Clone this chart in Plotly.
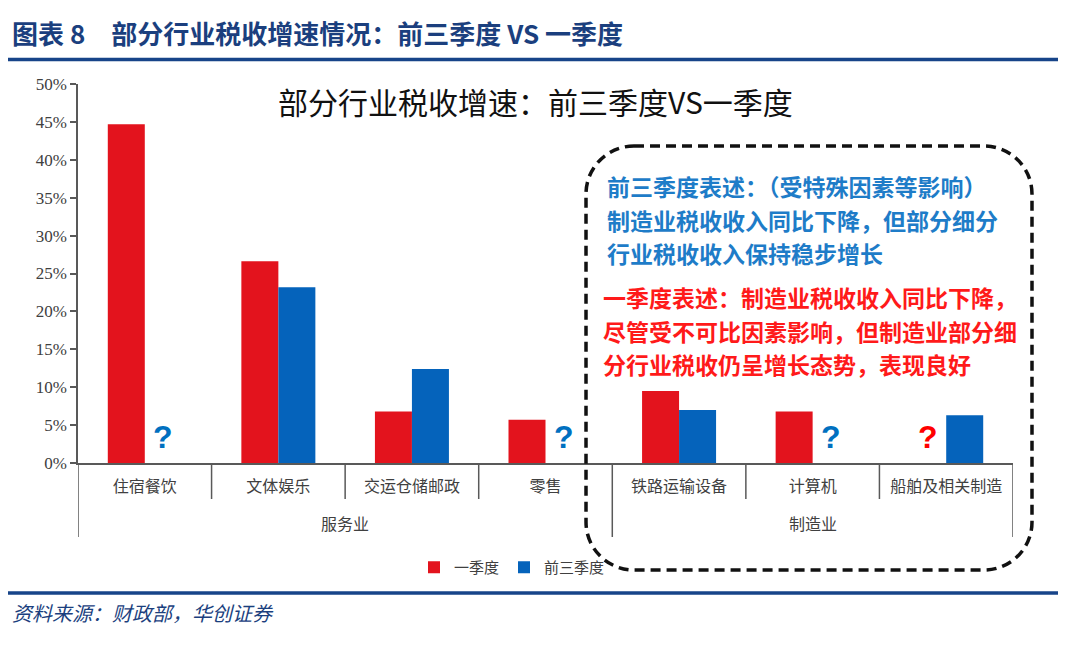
import plotly.graph_objects as go

# ---------------- data ----------------
groups = ["服务业", "服务业", "服务业", "服务业", "制造业", "制造业", "制造业"]
categories = ["住宿餐饮", "文体娱乐", "交运仓储邮政", "零售", "铁路运输设备", "计算机", "船舶及相关制造"]
q1_values = [0.447, 0.266, 0.068, 0.057, 0.095, 0.068, None]        # 一季度
q1to3_values = [None, 0.232, 0.124, None, 0.070, None, 0.063]      # 前三季度
y_ticks = [0, 0.05, 0.10, 0.15, 0.20, 0.25, 0.30, 0.35, 0.40, 0.45, 0.50]
series_names = ["一季度", "前三季度"]

chart_title = "部分行业税收增速：前三季度VS一季度"
header_title = "图表 8　部分行业税收增速情况：前三季度 VS 一季度"
source_text = "资料来源：财政部，华创证券"
blue_note = ["前三季度表述：（受特殊因素等影响）",
             "制造业税收收入同比下降，但部分细分",
             "行业税收收入保持稳步增长"]
red_note = ["一季度表述：制造业税收收入同比下降，",
            "尽管受不可比因素影响，但制造业部分细",
            "分行业税收仍呈增长态势，表现良好"]

# ---------------- layout helpers ----------------
W, H = 1080, 649
L, R, T, B = 78, 1013, 84, 463


def px(x):
    return (x - L) / (R - L)


def py(y):
    return (B - y) / (B - T)


RED = "#E3131D"
BLUE = "#0563BB"
NAVY = "#1B3F7E"
GREY = "#595959"
CJK = "Noto Sans CJK SC"

fig = go.Figure()
fig.add_trace(go.Bar(x=categories, y=q1_values, name=series_names[0],
                     marker=dict(color=RED, line=dict(width=0))))
fig.add_trace(go.Bar(x=categories, y=q1to3_values, name=series_names[1],
                     marker=dict(color=BLUE, line=dict(width=0))))

annotations = []
shapes = []

# question marks for missing values
bar_px = (R - L) / len(categories) * (1 - 0.446) / 2
for i, cat in enumerate(categories):
    if q1_values[i] is None:
        annotations.append(dict(x=cat, y=0, xref="x", yref="y", text="<b>?</b>", showarrow=False,
                                xshift=-bar_px / 2, yshift=6, yanchor="bottom",
                                font=dict(family="Liberation Sans", size=32, color="#FF0000")))
    if q1to3_values[i] is None:
        annotations.append(dict(x=cat, y=0, xref="x", yref="y", text="<b>?</b>", showarrow=False,
                                xshift=bar_px / 2, yshift=6, yanchor="bottom",
                                font=dict(family="Liberation Sans", size=32, color="#0070C0")))

# category dividers
n = len(categories)
for i in range(n + 1):
    b = i - 0.5
    is_group_edge = (i == 0) or (i == n) or (groups[i] != groups[i - 1])
    y1 = -(537 - B) / (B - T) if is_group_edge else -(499 - B) / (B - T)
    shapes.append(dict(type="line", xref="x", yref="paper", x0=b, x1=b, y0=0, y1=y1,
                       line=dict(color=GREY, width=1.5)))

# group labels
seen = []
for g in groups:
    if g not in seen:
        seen.append(g)
for g in seen:
    idx = [i for i, gg in enumerate(groups) if gg == g]
    annotations.append(dict(x=sum(idx) / len(idx), y=-(523 - B) / (B - T), xref="x", yref="paper",
                            text=g, showarrow=False, yanchor="middle",
                            font=dict(family=CJK, size=16, color="#404040")))

# chart title
annotations.append(dict(x=px(535), y=py(101), xref="paper", yref="paper", text=chart_title,
                        showarrow=False, xanchor="center", yanchor="middle",
                        font=dict(family=CJK, size=30, color="#111111")))

# notes
for k, line in enumerate(blue_note):
    annotations.append(dict(x=px(605), y=py(186 + 33.5 * k), xref="paper", yref="paper", text=line,
                            showarrow=False, xanchor="left", yanchor="middle",
                            font=dict(family=CJK, size=23, color="#1E7CC8", weight="bold")))
for k, line in enumerate(red_note):
    annotations.append(dict(x=px(601), y=py(297 + 33.5 * k), xref="paper", yref="paper", text=line,
                            showarrow=False, xanchor="left", yanchor="middle",
                            font=dict(family=CJK, size=23, color="#FF1A1A", weight="bold")))

# header and footer
annotations.append(dict(x=px(10), y=py(32), xref="paper", yref="paper", text="<b>" + header_title + "</b>",
                        showarrow=False, xanchor="left", yanchor="middle",
                        font=dict(family=CJK, size=26, color=NAVY)))
annotations.append(dict(x=px(10), y=py(612), xref="paper", yref="paper", text="<i>" + source_text + "</i>",
                        showarrow=False, xanchor="left", yanchor="middle",
                        font=dict(family=CJK, size=20, color=NAVY)))
for yy in (59.5, 593):
    shapes.append(dict(type="line", xref="paper", yref="paper", x0=px(8), x1=px(1058),
                       y0=py(yy), y1=py(yy), line=dict(color="#174489", width=3.5)))

# dashed rounded rectangle
x0, x1, y0, y1, r = 586, 1032, 146, 570, 48
k = 0.5523 * r


def P(x, y):
    return f"{px(x):.5f},{py(y):.5f}"


path = (f"M {P(x0 + r, y0)} L {P(x1 - r, y0)} "
        f"C {P(x1 - r + k, y0)} {P(x1, y0 + r - k)} {P(x1, y0 + r)} "
        f"L {P(x1, y1 - r)} "
        f"C {P(x1, y1 - r + k)} {P(x1 - r + k, y1)} {P(x1 - r, y1)} "
        f"L {P(x0 + r, y1)} "
        f"C {P(x0 + r - k, y1)} {P(x0, y1 - r + k)} {P(x0, y1 - r)} "
        f"L {P(x0, y0 + r)} "
        f"C {P(x0, y0 + r - k)} {P(x0 + r - k, y0)} {P(x0 + r, y0)} Z")
shapes.append(dict(type="path", xref="paper", yref="paper", path=path,
                   line=dict(color="#111111", width=3.5, dash="10px,6px")))

fig.update_layout(
    width=W, height=H,
    margin=dict(l=L, r=W - R, t=T, b=H - B, pad=0),
    paper_bgcolor="white", plot_bgcolor="white",
    barmode="group", bargap=0.446, bargroupgap=0,
    showlegend=True,
    legend=dict(orientation="h", x=px(414), y=py(551), xanchor="left", yanchor="top",
                font=dict(family=CJK, size=15, color="#404040"), itemwidth=30,
                tracegroupgap=0, traceorder="normal", bgcolor="rgba(0,0,0,0)"),
    annotations=annotations,
    shapes=shapes,
    font=dict(family=CJK),
)
fig.update_xaxes(type="category", showline=True, linecolor=GREY, linewidth=1.5,
                 ticks="", showgrid=False, zeroline=False,
                 tickfont=dict(family=CJK, size=16, color="#404040"), ticklabelstandoff=8,
                 range=[-0.5, n - 0.5])
fig.update_yaxes(range=[0, 0.5], tickvals=y_ticks, tickformat=".0%", showline=True,
                 linecolor=GREY, linewidth=1.5, ticks="outside", ticklen=6, tickcolor=GREY,
                 tickwidth=1.5, showgrid=False, zeroline=False,
                 tickfont=dict(family="Liberation Serif", size=17, color="#404040"))

fig.write_html("out.html", config={"displayModeBar": False},
               post_script="document.body.style.margin='0';document.body.style.overflow='hidden';")
